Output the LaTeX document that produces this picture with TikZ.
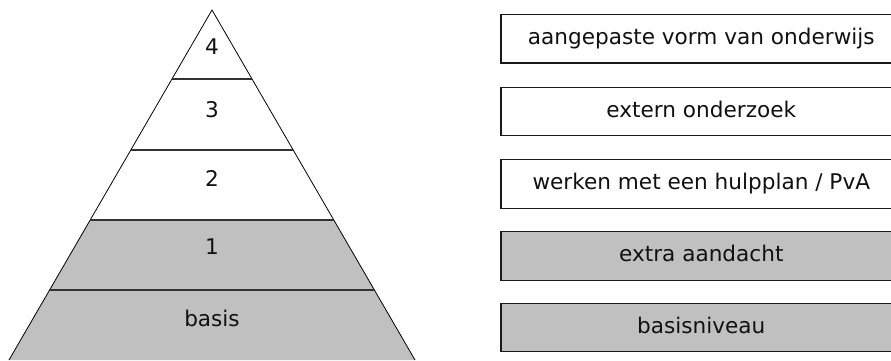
\documentclass[tikz,border=0pt]{standalone}
\usepackage{fontspec}
\setmainfont{DejaVu Sans}
\definecolor{bandgray}{RGB}{192,192,192}
\definecolor{txt}{RGB}{17,17,17}
\begin{document}
\begin{tikzpicture}[x=1pt,y=-1pt,
  lvl/.style={font=\fontsize{21.6}{26}\selectfont, text=txt, inner sep=0pt},
  levelbox/.style={draw=black!90, line width=1.4pt, minimum width=401pt, minimum height=48.5pt,
    font=\fontsize{21.6}{26}\selectfont, text=txt, inner sep=0pt, text height=15.5pt, text depth=4pt},
  divider/.style={line width=1.4pt, draw=black!80},
  side/.style={line width=0.8pt, draw=black}]
\useasboundingbox (0,0) rectangle (891,360);
\clip (0,0) rectangle (891,360);
% pyramid geometry: apex (212,10), half-width slope 0.58 per unit of height
\coordinate (apex) at (212,10);
\coordinate (l1) at (171.98,79);  \coordinate (r1) at (252.02,79);
\coordinate (l2) at (130.8,150);  \coordinate (r2) at (293.2,150);
\coordinate (l3) at (90.2,220);   \coordinate (r3) at (333.8,220);
\coordinate (l4) at (49.6,290);   \coordinate (r4) at (374.4,290);
\coordinate (l5) at (9,360);      \coordinate (r5) at (415,360);
% gray bottom bands
\fill[bandgray] (l3) -- (r3) -- (r5) -- (l5) -- cycle;
% outline
\draw[side] (l5) -- (apex) -- (r5);
% dividers
\draw[divider] (l1) -- (r1);
\draw[divider] (l2) -- (r2);
\draw[divider] (l3) -- (r3);
\draw[divider] (l4) -- (r4);
% labels
\node[lvl] (p4) at (212,47) {4};
\node[lvl] (p3) at (212,110) {3};
\node[lvl] (p2) at (212,178) {2};
\node[lvl] (p1) at (212,247) {1};
\node[lvl] (pb) at (212,318) {basis};
% boxes
\node[levelbox, fill=white] (b4) at (701.3,38.7) {aangepaste vorm van onderwijs};
\node[levelbox, fill=white] (b3) at (701.3,111.5) {extern onderzoek};
\node[levelbox, fill=white] (b2) at (701.3,184) {werken met een hulpplan / PvA};
\node[levelbox, fill=bandgray] (b1) at (701.3,256) {extra aandacht};
\node[levelbox, fill=bandgray] (b0) at (701.3,327.5) {basisniveau};
\end{tikzpicture}
\end{document}
